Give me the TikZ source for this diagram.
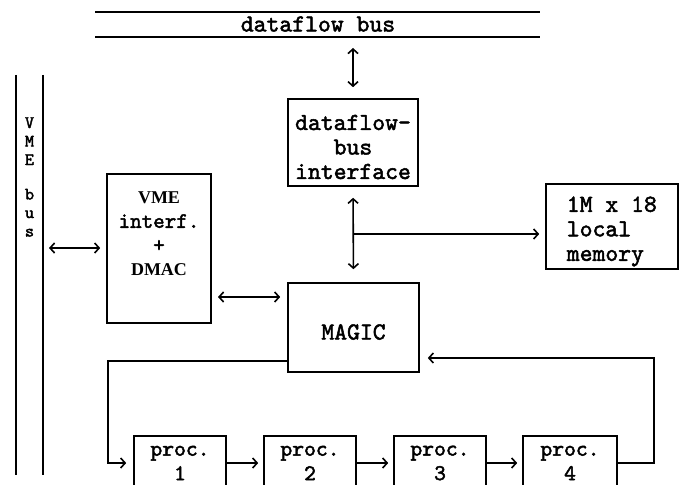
\documentclass[tikz,border=0pt]{standalone}
\usepackage{fontspec}
\newfontfamily\seriffnt{Liberation Serif}
\newfontfamily\monofnt{lmmono10-regular.otf}[FakeBold=2]
\usetikzlibrary{arrows.meta}
\begin{document}
\begin{tikzpicture}[x=1pt,y=-1pt,
  line width=1.6pt,
  box/.style={draw, rectangle, inner sep=0pt, line width=1.6pt},
  lbl/.style={font=\monofnt\fontsize{24.5}{24.5}\selectfont, align=center, inner sep=0pt},
  smalllbl/.style={font=\monofnt\fontsize{22.5}{24.5}\selectfont, align=center, inner sep=0pt},
  procbox/.style={box, smalllbl, minimum width=92pt, minimum height=54pt},
  busletter/.style={font=\monofnt\fontsize{17.5}{17.5}\selectfont, inner sep=0pt, anchor=base},
  tip/.style={-{Straight Barb[length=4.5pt,width=10pt]}},
  dtip/.style={{Straight Barb[length=4.5pt,width=10pt]}-{Straight Barb[length=4.5pt,width=10pt]}},
]
\useasboundingbox (0,0) rectangle (687,484);
\clip (0,0) rectangle (687,484);

% dataflow bus
\coordinate (busTL) at (95,12);
\coordinate (busTR) at (540,12);
\coordinate (busBL) at (95,37);
\coordinate (busBR) at (540,37);
\draw (busTL) -- (busTR);
\draw (busBL) -- (busBR);
\node[lbl] (bustext) at (318,24) {dataflow bus};
\coordinate (busjoin) at (353,37);

% VME bus
\coordinate (vbTL) at (16,75);
\coordinate (vbBL) at (16,475);
\coordinate (vbTR) at (43,75);
\coordinate (vbBR) at (43,475);
\draw (vbTL) -- (vbBL);
\draw (vbTR) -- (vbBR);
\foreach \ch/\yy [count=\i] in {V/128, M/146.5, E/165, b/199.5, u/218, s/236.5}
  \node[busletter] (vb\i) at (29.5,\yy) {\ch};
\coordinate (vbus) at (43,248);

% blocks
\node[box, minimum width=130pt, minimum height=87pt] (dfi) at (353,142.5) {};
\node[lbl] (dfitext) at (353,147) {dataflow-\\bus\\interface};

\node[box, minimum width=131pt, minimum height=89pt] (magic) at (353.5,327.5) {};
\node[lbl] (magictext) at (353.5,332) {MAGIC};

\node[box, minimum width=104pt, minimum height=149pt] (vme) at (159,248.5) {};
\node[smalllbl, font=\monofnt\fontsize{22}{24}\selectfont] (vmetext) at (159,234)
  {{\seriffnt\bfseries\fontsize{18}{24}\selectfont VME}\\interf.\\+\\{\seriffnt\bfseries\fontsize{18}{24}\selectfont DMAC}};

\node[box, minimum width=132pt, minimum height=85pt] (mem) at (612,226.5) {};
\node[lbl, align=left, anchor=west] (memtext) at (566,231.5) {1M x 18\\local\\memory};

\node[procbox] (p1) at (180,463) {proc.\\1};
\node[procbox] (p2) at (310,463) {proc.\\2};
\node[procbox] (p3) at (440,463) {proc.\\3};
\node[procbox, minimum width=94pt] (p4) at (570,463) {proc.\\4};

% connections
\draw[dtip, shorten <=11pt, shorten >=11pt] (busjoin) -- (dfi.north);
\draw[dtip, shorten <=11pt, shorten >=13pt] (dfi.south) -- (magic.north);
\coordinate (br) at (353,234);
\draw[tip, shorten >=6pt] (br) -- (br -| mem.west);
\draw[dtip, shorten <=6pt, shorten >=6pt] (vbus) -- (vbus -| vme.west);
\coordinate (vm) at (211,297);
\draw[dtip, shorten <=7pt, shorten >=7pt] (vm) -- (vm -| magic.west);

\coordinate (mo) at (288,361);
\coordinate (loopL) at (108,361);
\draw[tip, shorten >=7pt] (mo) -- (loopL) |- (p1.west);
\draw[tip, shorten >=5pt] (p1.east) -- (p2.west);
\draw[tip, shorten >=5pt] (p2.east) -- (p3.west);
\draw[tip, shorten >=5pt] (p3.east) -- (p4.west);
\coordinate (loopR) at (654,358);
\draw[tip, shorten >=8pt] (p4.east) -| (loopR) -- (loopR -| magic.east);
\end{tikzpicture}
\end{document}
